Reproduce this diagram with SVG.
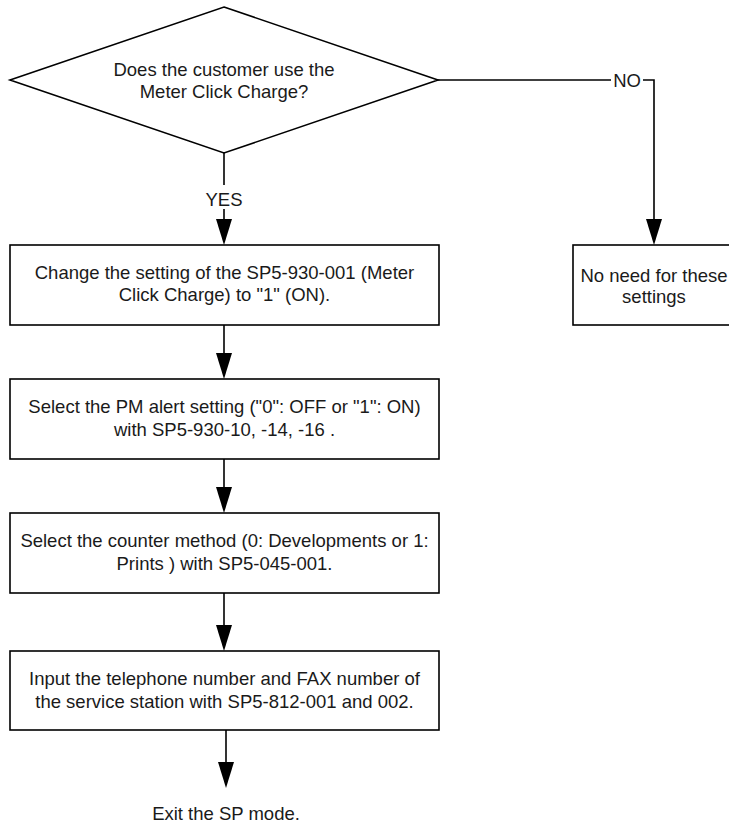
<svg xmlns="http://www.w3.org/2000/svg" width="729" height="830" viewBox="0 0 729 830">
<style>
.shape{fill:#fff;stroke:#000;stroke-width:1.6}
.ln{fill:none;stroke:#000;stroke-width:1.6}
.ah{fill:#000;stroke:none}
text{font-family:"Liberation Sans",Arial,sans-serif;font-size:18.5px;fill:#1a1a1a;text-anchor:middle}
</style>
<rect width="729" height="830" fill="#fff"/>
<g id="connectors">
<line class="ln" x1="224" y1="153" x2="224" y2="185"/>
<line class="ln" x1="224" y1="209" x2="224" y2="222"/>
<polygon class="ah" points="216,219 232,219 224,245"/>
<polyline class="ln" points="438,80 611,80"/>
<polyline class="ln" points="643,80 654,80 654,222"/>
<polygon class="ah" points="646,219 662,219 654,245"/>
<line class="ln" x1="224" y1="325" x2="224" y2="356"/>
<polygon class="ah" points="216,353 232,353 224,379"/>
<line class="ln" x1="224" y1="459" x2="224" y2="490"/>
<polygon class="ah" points="216,487 232,487 224,513"/>
<line class="ln" x1="224" y1="593" x2="224" y2="628"/>
<polygon class="ah" points="216,625 232,625 224,651"/>
<line class="ln" x1="226" y1="730" x2="226" y2="765"/>
<polygon class="ah" points="218,762 234,762 226,788"/>
<text x="224" y="206">YES</text>
<text x="627" y="87">NO</text>
</g>
<g id="decision">
<polygon class="shape" points="224,7 438,80 224,153 10,80"/>
<text x="224" y="76">Does the customer use the</text>
<text x="224" y="98">Meter Click Charge?</text>
</g>
<g id="no-need">
<rect class="shape" x="573" y="245" width="162" height="80"/>
<text x="654" y="282">No need for these</text>
<text x="654" y="303">settings</text>
</g>
<g id="step1">
<rect class="shape" x="10" y="245" width="429" height="80"/>
<text x="224.5" y="279">Change the setting of the SP5-930-001 (Meter</text>
<text x="224.5" y="301">Click Charge) to "1" (ON).</text>
</g>
<g id="step2">
<rect class="shape" x="10" y="379" width="429" height="80"/>
<text x="224.5" y="413">Select the PM alert setting ("0": OFF or "1": ON)</text>
<text x="224.5" y="436">with SP5-930-10, -14, -16 .</text>
</g>
<g id="step3">
<rect class="shape" x="10" y="513" width="429" height="80"/>
<text x="224.5" y="547">Select the counter method (0: Developments or 1:</text>
<text x="224.5" y="570">Prints ) with SP5-045-001.</text>
</g>
<g id="step4">
<rect class="shape" x="10" y="651" width="429" height="79"/>
<text x="224.5" y="685">Input the telephone number and FAX number of</text>
<text x="224.5" y="708">the service station with SP5-812-001 and 002.</text>
</g>
<g id="exit">
<text x="226" y="820">Exit the SP mode.</text>
</g>
</svg>
